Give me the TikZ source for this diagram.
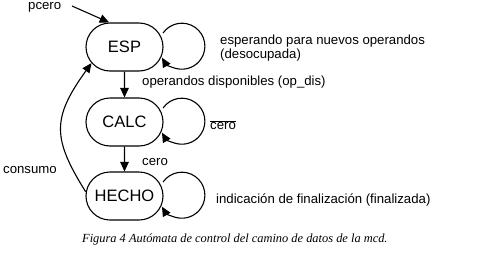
\documentclass[tikz,border=0pt]{standalone}
\usepackage{fontspec}
\setmainfont{Liberation Sans}
\newfontfamily\capfont{Liberation Serif}
\usetikzlibrary{shapes.misc,arrows.meta}
\begin{document}
\begin{tikzpicture}[x=1pt,y=1pt,
  state/.style={rounded rectangle, draw, line width=1.1pt, minimum width=77pt,
    minimum height=48pt, inner sep=0pt, font=\fontsize{16.5}{18}\selectfont},
  conn/.style={line width=1.1pt, -{Triangle[length=9.5pt,width=8.5pt]}},
  lbl/.style={anchor=west, inner sep=0pt, font=\fontsize{13.2}{11.5}\selectfont, align=left}]
  \useasboundingbox (0,0) rectangle (497,258);

  % states
  \node[state] (ESP)   at (124.5,211) {ESP};
  \node[state] (CALC)  at (124.5,136) {CALC};
  \node[state] (HECHO) at (124.5,62)  {HECHO};

  % initial transition
  \node[lbl] (pcero) at (28,251) {pcero};
  \coordinate (pstart) at (72,252);
  \draw[conn] (pstart) -- (ESP.122);

  % transitions between states
  \draw[conn] (ESP) -- (CALC);
  \draw[conn] (CALC) -- (HECHO);
  \draw[conn] (HECHO.174) .. controls (52,120) and (52,140) .. (ESP.206);

  % self loops
  \draw[conn] ([shift={(-0.5,14)}]ESP.east) arc[start angle=145, end angle=-150, radius=23];
  \draw[conn] ([shift={(-0.5,14)}]CALC.east) arc[start angle=145, end angle=-150, radius=23];
  \draw[conn] ([shift={(-0.5,14)}]HECHO.east) arc[start angle=145, end angle=-150, radius=23];

  % labels
  \node[lbl] (lesp) at (220,210) {esperando para nuevos operandos\\(desocupada)};
  \node[lbl] (lop) at (142,176) {operandos disponibles (op\_dis)};
  \node[lbl] (lncero) at (210,133) {$\overline{\mbox{cero}}$};
  \node[lbl] (lcero) at (142,96) {cero};
  \node[lbl] (lcons) at (3,88) {consumo};
  \node[lbl] (lfin) at (216,58) {indicación de finalización (finalizada)};

  % caption
  \node[anchor=west, inner sep=0pt, font=\capfont\itshape\fontsize{12.4}{14}\selectfont] (cap) at (82,18)
    {Figura 4 Autómata de control del camino de datos de la mcd.};
\end{tikzpicture}
\end{document}
